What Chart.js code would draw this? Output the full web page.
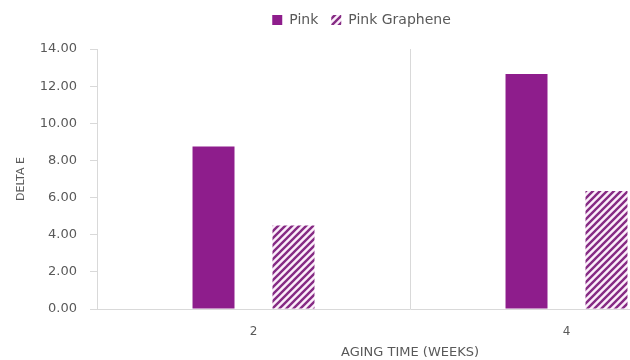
<!DOCTYPE html>
<html>
<head>
<meta charset="utf-8">
<script src="https://cdn.jsdelivr.net/npm/chart.js@4/dist/chart.umd.min.js"></script>
<style>
  html, body { margin: 0; padding: 0; background: #fff; width: 630px; height: 360px; overflow: hidden; }
  #wrap { width: 730px; height: 360px; }
</style>
</head>
<body>
<div id="wrap"><canvas id="chart" width="730" height="360"></canvas></div>
<script>
const categories = ["2", "4"];
const pinkValues = [8.75, 12.65];
const grapheneValues = [4.5, 6.35];
const seriesNames = ["Pink", "Pink Graphene"];
const yTicks = [0, 2, 4, 6, 8, 10, 12, 14];

const PURPLE = "#8e1d8c";
const TEXT = "#595959";
const LINE = "#d9d9d9";

// diagonal hatch for the graphene series
function makeHatch() {
    const size = 7;
    const c = document.createElement("canvas");
    c.width = size;
    c.height = size;
    const g = c.getContext("2d");
    g.fillStyle = "#fbeefa";
    g.fillRect(0, 0, size, size);
    g.strokeStyle = "#862b84";
    g.lineWidth = 2.4;
    g.beginPath();
    g.moveTo(-1, size + 1); g.lineTo(size + 1, -1);
    g.moveTo(-1, 1); g.lineTo(1, -1);
    g.moveTo(size - 1, size + 1); g.lineTo(size + 1, size - 1);
    g.stroke();
    return g.createPattern(c, "repeat");
}

const legendFix = {
    id: "legendFix",
    beforeInit(chart) {
        const fit = chart.legend.fit;
        chart.legend.fit = function () { fit.call(this); this.height = 49; };
    }
};

const ctx = document.getElementById("chart").getContext("2d");
new Chart(ctx, {
    type: "bar",
    data: {
        labels: categories,
        datasets: [
            {
                label: seriesNames[0],
                data: pinkValues,
                backgroundColor: PURPLE,
                borderWidth: 0,
                categoryPercentage: 0.511,
                barPercentage: 0.525,
            },
            {
                label: seriesNames[1],
                data: grapheneValues,
                backgroundColor: makeHatch(),
                borderWidth: 0,
                categoryPercentage: 0.511,
                barPercentage: 0.525,
            },
        ],
    },
    options: {
        responsive: false,
        animation: false,
        devicePixelRatio: 1,
        layout: { padding: { top: 0, left: 0, right: 7, bottom: 0 } },
        plugins: {
            legend: {
                position: "top",
                labels: {
                    boxWidth: 10, boxHeight: 10, padding: 13,
                    color: TEXT,
                    font: { family: "DejaVu Sans", size: 14 },
                },
            },
            tooltip: { enabled: false },
        },
        scales: {
            x: {
                grid: { color: LINE, drawTicks: false, lineWidth: 1 },
                border: { color: LINE },
                ticks: { color: TEXT, font: { family: "DejaVu Sans", size: 12 }, padding: 16 },
                title: {
                    display: true, text: "AGING TIME (WEEKS)", color: TEXT,
                    font: { family: "DejaVu Sans", size: 13 },
                    padding: { top: 0, bottom: 0 },
                },
                afterFit(scale) { scale.height = 51; },
            },
            y: {
                min: 0, max: 14,
                afterBuildTicks(scale) { scale.ticks = yTicks.map(v => ({ value: v })); },
                grid: { drawOnChartArea: false, drawTicks: true, tickLength: 7, color: LINE },
                border: { color: LINE },
                ticks: {
                    color: TEXT, padding: 13,
                    font: { family: "DejaVu Sans", size: 13 },
                    callback: v => Number(v).toFixed(2),
                },
                title: {
                    display: true, text: "DELTA E", color: TEXT,
                    font: { family: "DejaVu Sans", size: 11 },
                    padding: { top: 15, bottom: 0 },
                },
                afterFit(scale) { scale.width = 97; },
            },
        },
    },
    plugins: [legendFix],
});
</script>
</body>
</html>
